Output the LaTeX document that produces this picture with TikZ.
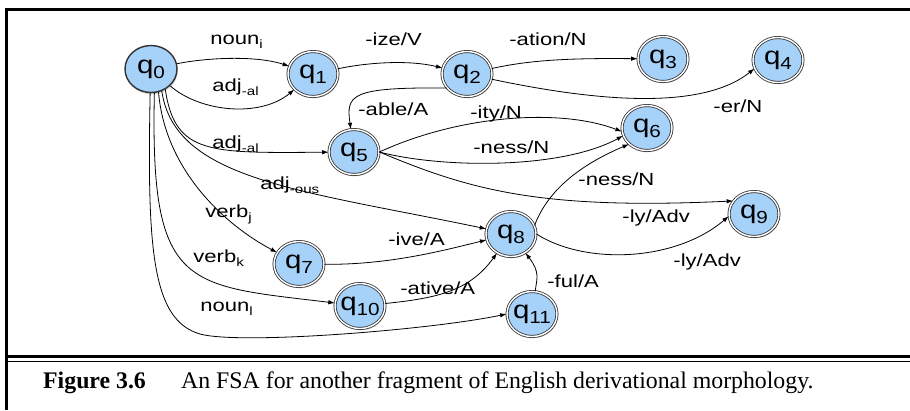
\documentclass[tikz,border=0pt]{standalone}
\usepackage{fontspec}
\setmainfont{Liberation Serif}
\newfontfamily\lblfont[FakeStretch=1.26]{Liberation Sans}
\newfontfamily\statefont[FakeStretch=1.18]{Liberation Sans}
\usetikzlibrary{shapes.geometric,shadows,arrows.meta}
\definecolor{stateblue}{RGB}{166,210,250}
\newcommand{\qn}[1]{q\raisebox{-5bp}{\fontsize{17.5bp}{18bp}\selectfont#1}}
\newcommand{\lsub}[1]{\raisebox{-4.5bp}{\fontsize{12bp}{13bp}\selectfont#1}}
\tikzset{
	stbase/.style={ellipse, inner sep=0pt, inner xsep=-4bp, fill=stateblue, draw=black!80,
		drop shadow={shadow xshift=0.8bp, shadow yshift=-1.8bp, opacity=0.35},
		font=\statefont\fontsize{25bp}{27bp}\selectfont},
	firststate/.style={stbase, minimum width=52bp, minimum height=47bp, line width=1.4bp},
	finalstate/.style={stbase, minimum width=50bp, minimum height=45bp, line width=0.8bp,
		double=white, double distance=1.4bp},
	trans/.style={-{Latex[length=6.5bp,width=4.5bp]}, line width=0.8bp},
	lbl/.style={font=\lblfont\fontsize{17.5bp}{19bp}\selectfont, inner sep=0pt, anchor=base west},
	capt/.style={font=\fontsize{23.8bp}{25bp}\selectfont, inner sep=0pt, anchor=base west},
}
\begin{document}
\begin{tikzpicture}[x=1bp,y=-1bp]
		\useasboundingbox (0,0) rectangle (910,410);
		
		%%%%% Frame %%%%%%
		\draw[line width=3bp] (6.5,410) -- (6.5,9) -- (910,9);
		\draw[line width=3bp] (6.5,356.5) -- (910,356.5);
		\draw[line width=1.2bp] (6.5,361.5) -- (910,361.5);
		
		%%%%% States %%%%%%
		\node[firststate] (nodeQ0) at (151,69){\qn{0}};
		\node[finalstate] (nodeQ1) at (313,74){\qn{1}};
		\node[finalstate] (nodeQ2) at (467,74){\qn{2}};
		\node[finalstate] (nodeQ3) at (663,59){\qn{3}};
		\node[finalstate] (nodeQ4) at (778,60){\qn{4}};
		\node[finalstate] (nodeQ5) at (354,152){\qn{5}};
		\node[finalstate] (nodeQ6) at (647,128){\qn{6}};
		\node[finalstate] (nodeQ7) at (299,264){\qn{7}};
		\node[finalstate] (nodeQ8) at (511,234){\qn{8}};
		\node[finalstate] (nodeQ9) at (754,214){\qn{9}};
		\node[finalstate] (nodeQ10) at (360,306){\qn{10}};
		\node[finalstate] (nodeQ11) at (532,314){\qn{11}};
		
		%%%%% Arrows %%%%%%
		\draw[trans] (nodeQ0) .. controls (205,58) and (255,55) .. (nodeQ1) node[lbl] at (210,44){noun\lsub{i}};
		\draw[trans] (nodeQ0) .. controls (200,112) and (260,118) .. (nodeQ1) node[lbl] at (212,91){adj\lsub{-al}};
		\draw[trans] (nodeQ1) .. controls (370,62) and (410,60) .. (nodeQ2) node[lbl] at (365,45){-ize/V};
		\draw[trans] (nodeQ2) .. controls (530,60) and (570,58) .. (nodeQ3) node[lbl] at (509,45){-ation/N};
		\draw[trans] (nodeQ2) .. controls (590,100) and (700,112) .. (nodeQ4.200) node[lbl] at (713,112){-er/N};
		\draw[trans] (nodeQ2.215) .. controls (350,87) and (346,95) .. (nodeQ5) node[lbl] at (358,115){-able/A};
		\draw[trans] (nodeQ0.-55) .. controls (175,155) and (210,153) .. (nodeQ5) node[lbl] at (212,148){adj\lsub{-al}};
		\draw[trans] (nodeQ0.-64) .. controls (175,180) and (300,190) .. (nodeQ8) node[lbl] at (260,189){adj\lsub{-ous}};
		\draw[trans] (nodeQ0.-72) .. controls (165,170) and (225,225) .. (nodeQ7) node[lbl] at (205,217){verb\lsub{j}};
		\draw[trans] (nodeQ0.-82) .. controls (150,290) and (185,285) .. (nodeQ10) node[lbl] at (193,262){verb\lsub{k}};
		\draw[trans] (nodeQ0.-92) .. controls (147,250) and (152,320) .. (200,334)
			.. controls (240,345) and (430,330) .. (nodeQ11.west) node[lbl] at (200,311){noun\lsub{l}};
		\draw[trans] (nodeQ5.east) .. controls (460,115) and (560,108) .. (nodeQ6.188) node[lbl] at (470,118){-ity/N};
		\draw[trans] (nodeQ5.east) .. controls (440,168) and (560,170) .. (nodeQ6.198) node[lbl] at (473,153){-ness/N};
		\draw[trans] (nodeQ5.east) .. controls (470,190) and (540,210) .. (nodeQ9.148) node[lbl] at (622,222){-ly/Adv};
		\draw[trans] (nodeQ7) .. controls (390,265) and (445,250) .. (nodeQ8) node[lbl] at (388,245){-ive/A};
		\draw[trans] (nodeQ10) .. controls (440,298) and (470,290) .. (nodeQ8) node[lbl] at (400,294){-ative/A};
		\draw[trans] (nodeQ11) .. controls (537,278) and (540,272) .. (nodeQ8) node[lbl] at (547,287){-ful/A};
		\draw[trans] (nodeQ8.20) .. controls (548,190) and (580,165) .. (nodeQ6.222) node[lbl] at (578,185){-ness/N};
		\draw[trans] (nodeQ8.east) .. controls (585,265) and (675,262) .. (nodeQ9.185) node[lbl] at (673,266){-ly/Adv};
		
		%%%%% Caption %%%%%%
		\node[capt, font=\fontsize{23.8bp}{25bp}\selectfont\bfseries] (figNum) at (43,388){Figure 3.6};
		\node[capt] (figText) at (181,388){An FSA for another fragment of English derivational morphology.};
		
\end{tikzpicture}
\end{document}
